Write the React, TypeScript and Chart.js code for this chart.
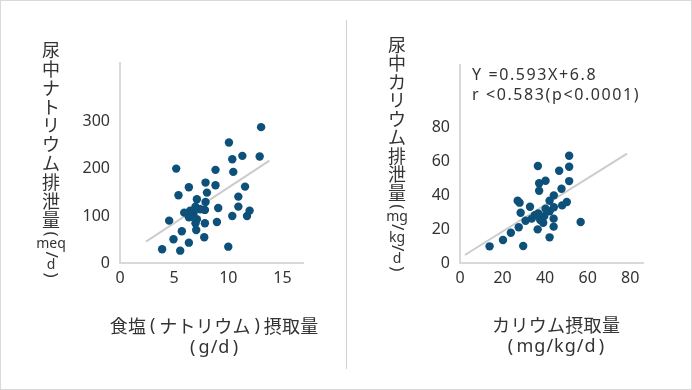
import { useEffect, useRef } from 'react';
import Chart from 'chart.js/auto';

// ---------- Left chart: sodium ----------
const naSaltIntake = [
  13.03, 10.06, 11.3, 12.9, 10.37, 5.19, 8.82, 10.46, 7.9, 6.36, 8.82, 11.55, 8.03, 5.4,
  10.93, 7.1, 7.9, 6.97, 10.93, 9.07, 7.84, 5.93, 6.48, 6.79, 11.97, 11.73, 10.37, 6.36,
  4.54, 7.1, 8.95, 7.84, 6.97, 7.04, 5.71, 7.78, 4.94, 6.36, 3.89, 5.56, 10.0, 6.64, 7.41,
];
const naExcretion = [
  288.7, 256, 227.7, 226.2, 220.6, 200.6, 197.9, 193.6, 170.9, 161.1, 165.3, 162.3, 149.6, 144,
  141.1, 135.5, 129.8, 119.8, 119.8, 117, 112.8, 107, 111.3, 105.7, 111.3, 100, 100, 97.2,
  90, 93, 87.2, 84.5, 84.5, 70.2, 67.4, 54.7, 50.4, 43.2, 29.1, 26.2, 34.7, 98.5, 114.3,
];
const naFitX = [2.4, 13.8];
const naFitY = [45.3, 217.7];
const naXTicks = [0, 5, 10, 15];
const naYTicks = [0, 100, 200, 300];
const naYTitle = ['尿', '中', 'ナ', 'ト', 'リ', 'ウ', 'ム', '排', '泄', '量', '(', 'meq', '/', 'd', ')'];
const naXTitle = ['食塩（ナトリウム）摂取量', '（g/d）'];

// ---------- Right chart: potassium ----------
const kIntake = [
  51.3, 36.6, 51.3, 46.6, 40.2, 37.2, 51.3, 37.2, 47.7, 44.1, 42.1, 27.1, 28.0, 50.2, 48.0,
  44.1, 32.9, 28.5, 42.1, 36.8, 39.6, 33.7, 44.0, 30.8, 37.7, 39.1, 56.7, 27.6, 44.0, 36.5,
  23.9, 20.2, 42.1, 13.9, 29.7, 35.2, 40.2,
];
const kExcretion = [
  63.1, 57.1, 56.6, 54.3, 48.4, 46.9, 48.2, 42.5, 43.7, 39.8, 36.6, 36.6, 35.5, 35.9, 33.9,
  32.8, 33.1, 29.6, 30.4, 29.2, 27.6, 26.1, 26.1, 24.9, 25.3, 23.7, 24.1, 21.0, 21.4, 19.8,
  17.8, 13.5, 15.1, 9.8, 10.0, 28.1, 31.9,
];
const kFitX = [2.3, 78.5];
const kFitY = [4.7, 64.3];
const kXTicks = [0, 20, 40, 60, 80];
const kYTicks = [0, 20, 40, 60, 80];
const kYTitle = ['尿', '中', 'カ', 'リ', 'ウ', 'ム', '排', '泄', '量', '(', 'mg', '/', 'kg', '/', 'd', ')'];
const kXTitle = ['カリウム摂取量', '（mg/kg/d）'];
const kNote = ['Y =0.593X+6.8', 'r <0.583(p<0.0001)'];

const DOT = '#0d5079';
const TEXT = '#333333';
const AXIS = '#d9d9d9';
const NUM_FONT = "'Noto Sans', 'Noto Sans CJK JP', sans-serif";
const JP_FONT = "'Noto Sans CJK JP', sans-serif";

type Cfg = {
  xs: number[];
  ys: number[];
  fitX: number[];
  fitY: number[];
  xTicks: number[];
  yTicks: number[];
  xMax: number;
  yMax: number;
  yTitle: string[];
  xTitle: string[];
  note?: string[];
  pad: { top: number; right: number };
  yWidth: number;
  xHeight: number;
  yTitleX: number;
  yTitleTop: number;
  cjkStep: number;
  xTitleX: number;
  xTitleY: number[];
  noteX?: number;
  noteY?: number[];
};

function drawVertical(ctx: CanvasRenderingContext2D, tokens: string[], cx: number, top: number, cjkStep: number) {
  let y = top;
  let prevH = 0;
  tokens.forEach((t, i) => {
    const kind = t === '(' || t === ')' ? 'paren' : t === '/' ? 'slash' : /^[a-z]+$/.test(t) ? 'latin' : 'cjk';
    const h = kind === 'cjk' ? cjkStep : kind === 'paren' ? 9 : kind === 'slash' ? 10 : 11;
    if (i > 0) y += (prevH + h) / 2;
    prevH = h;
    ctx.save();
    ctx.translate(cx, y);
    if (kind === 'paren' || kind === 'slash') ctx.rotate(Math.PI / 2);
    ctx.font = kind === 'latin' ? `14px ${NUM_FONT}` : kind === 'cjk' ? `18px ${JP_FONT}` : `17px ${NUM_FONT}`;
    ctx.fillStyle = TEXT;
    ctx.textAlign = 'center';
    ctx.textBaseline = 'middle';
    ctx.fillText(t, 0, 0);
    ctx.restore();
  });
}

// horizontal title: CJK glyphs on an 18.3px grid, brackets in narrower cells, latin proportional
function drawHorizontal(ctx: CanvasRenderingContext2D, text: string, cx: number, cy: number, parenW: number) {
  const chars = Array.from(text);
  const cells = chars.map((ch) => {
    if (ch === '（' || ch === '）') return { ch: ch === '（' ? '(' : ')', w: parenW, font: `18px ${NUM_FONT}` };
    if (/[\x20-\x7e]/.test(ch)) {
      ctx.font = `18px ${NUM_FONT}`;
      return { ch, w: ctx.measureText(ch).width + 1, font: `18px ${NUM_FONT}` };
    }
    return { ch, w: 18.3, font: `18px ${JP_FONT}` };
  });
  const total = cells.reduce((s, c) => s + c.w, 0);
  let x = cx - total / 2;
  ctx.textAlign = 'center';
  ctx.textBaseline = 'middle';
  cells.forEach((c) => {
    ctx.font = c.font;
    ctx.fillText(c.ch, x + c.w / 2, cy);
    x += c.w;
  });
}

function makeChart(canvas: HTMLCanvasElement, c: Cfg) {
  const titles = {
    id: 'titles',
    afterDraw(chart: any) {
      const ctx: CanvasRenderingContext2D = chart.ctx;
      drawVertical(ctx, c.yTitle, c.yTitleX, c.yTitleTop, c.cjkStep);
      ctx.save();
      ctx.fillStyle = TEXT;
      c.xTitle.forEach((line, i) => drawHorizontal(ctx, line, c.xTitleX, c.xTitleY[i], i === 0 ? 13 : 11));
      if (c.note && c.noteY) {
        ctx.font = `16px ${NUM_FONT}`;
        (ctx as any).letterSpacing = '1.6px';
        ctx.textAlign = 'left';
        ctx.textBaseline = 'middle';
        c.note.forEach((line, i) => ctx.fillText(line, c.noteX as number, (c.noteY as number[])[i]));
      }
      ctx.restore();
    },
  };
  return new Chart(canvas, {
    type: 'scatter',
    data: {
      datasets: [
        {
          type: 'scatter',
          data: c.xs.map((x, i) => ({ x, y: c.ys[i] })),
          backgroundColor: DOT,
          borderColor: DOT,
          pointRadius: 4.2,
          pointHoverRadius: 4.2,
          borderWidth: 0,
          order: 0,
        },
        {
          type: 'line',
          data: c.fitX.map((x, i) => ({ x, y: c.fitY[i] })),
          borderColor: '#cccccc',
          borderWidth: 2,
          pointRadius: 0,
          fill: false,
          order: 1,
        } as any,
      ],
    },
    options: {
      responsive: false,
      animation: false,
      devicePixelRatio: 1,
      layout: { padding: { top: c.pad.top, right: c.pad.right, bottom: 0, left: 0 } },
      plugins: { legend: { display: false }, tooltip: { enabled: false } },
      scales: {
        x: {
          type: 'linear',
          min: 0,
          max: c.xMax,
          afterBuildTicks: (s: any) => {
            s.ticks = c.xTicks.map((v) => ({ value: v }));
          },
          afterFit: (s: any) => {
            s.height = c.xHeight;
          },
          grid: { display: false, drawTicks: false },
          border: { display: true, color: AXIS, width: 2 },
          ticks: { color: TEXT, font: { family: NUM_FONT, size: 16 }, padding: 6, maxRotation: 0 },
        },
        y: {
          type: 'linear',
          min: 0,
          max: c.yMax,
          afterBuildTicks: (s: any) => {
            s.ticks = c.yTicks.map((v) => ({ value: v }));
          },
          afterFit: (s: any) => {
            s.width = c.yWidth;
          },
          grid: { display: false, drawTicks: false },
          border: { display: true, color: AXIS, width: 2 },
          ticks: { color: TEXT, font: { family: NUM_FONT, size: 16 }, padding: 10 },
        },
      },
    },
    plugins: [titles],
  } as any);
}

export default function App() {
  const leftRef = useRef<HTMLCanvasElement>(null);
  const rightRef = useRef<HTMLCanvasElement>(null);

  useEffect(() => {
    document.body.style.margin = '0';
    const a = makeChart(leftRef.current as HTMLCanvasElement, {
      xs: naSaltIntake,
      ys: naExcretion,
      fitX: naFitX,
      fitY: naFitY,
      xTicks: naXTicks,
      yTicks: naYTicks,
      xMax: 16.9,
      yMax: 425,
      yTitle: naYTitle,
      xTitle: naXTitle,
      pad: { top: 63, right: 43 },
      yWidth: 120,
      xHeight: 127,
      yTitleX: 51,
      yTitleTop: 50,
      cjkStep: 18.9,
      xTitleX: 214,
      xTitleY: [326, 348],
    });
    const b = makeChart(rightRef.current as HTMLCanvasElement, {
      xs: kIntake,
      ys: kExcretion,
      fitX: kFitX,
      fitY: kFitY,
      xTicks: kXTicks,
      yTicks: kYTicks,
      xMax: 86,
      yMax: 116.5,
      yTitle: kYTitle,
      xTitle: kXTitle,
      note: kNote,
      pad: { top: 65, right: 49 },
      yWidth: 114,
      xHeight: 127,
      yTitleX: 51,
      yTitleTop: 45,
      cjkStep: 18.5,
      xTitleX: 210,
      xTitleY: [325, 347],
      noteX: 126,
      noteY: [75, 95],
    });
    return () => {
      a.destroy();
      b.destroy();
    };
  }, []);

  return (
    <div
      style={{
        position: 'relative',
        width: 692,
        height: 390,
        boxSizing: 'border-box',
        border: '1px solid #d9d9d9',
        background: '#ffffff',
        overflow: 'hidden',
      }}
    >
      <canvas ref={leftRef} width={346} height={390} style={{ position: 'absolute', left: -1, top: -1, display: 'block' }} />
      <canvas ref={rightRef} width={346} height={390} style={{ position: 'absolute', left: 345, top: -1, display: 'block' }} />
      <div style={{ position: 'absolute', left: 345, top: 19, width: 1, height: 349, background: '#d0d0d0' }} />
    </div>
  );
}
